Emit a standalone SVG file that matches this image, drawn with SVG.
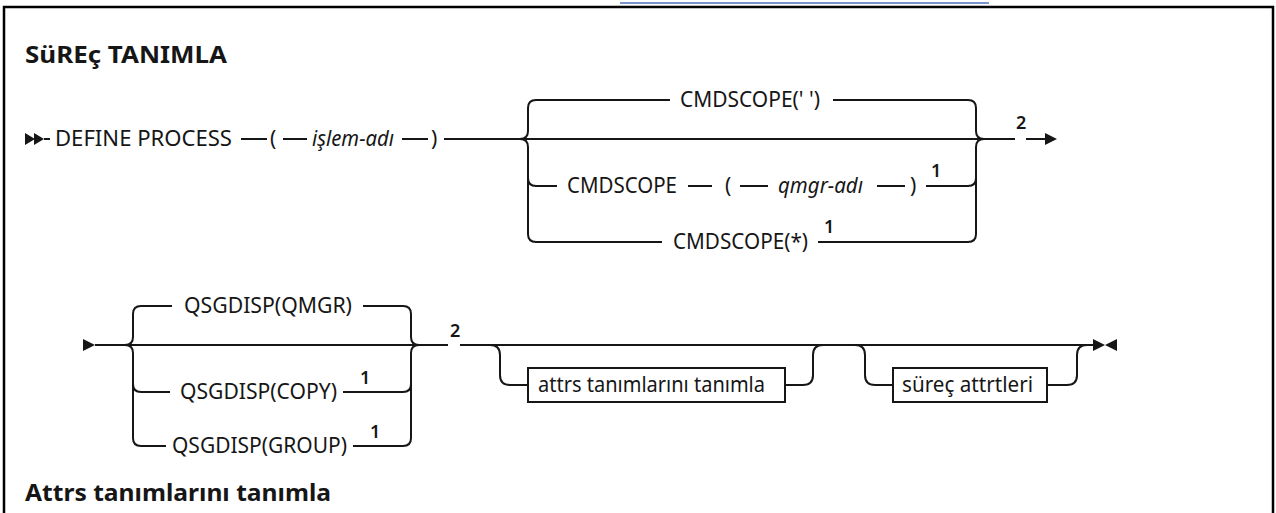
<svg xmlns="http://www.w3.org/2000/svg" width="1276" height="513" viewBox="0 0 1276 513">
<style>
.t{font-family:"Noto Sans","Liberation Sans",sans-serif;font-size:21px;fill:#161616}
.i{font-style:italic}
.h{font-family:"Noto Sans","Liberation Sans",sans-serif;font-size:24px;font-weight:bold;fill:#161616}
.s{font-family:"Noto Sans","Liberation Sans",sans-serif;font-size:18px;font-weight:600;fill:#161616}
.c{fill:none;stroke:#161616;stroke-width:2}
.b{fill:#fff;stroke:#161616;stroke-width:2}
.a{fill:#161616}
</style>
<rect width="1276" height="513" fill="#fff"/>
<line x1="620" y1="3" x2="989" y2="3" stroke="#7a93cc" stroke-width="2"/>
<path d="M4,513 V7 H1273 V513" fill="none" stroke="#000" stroke-width="2.5"/>
<text class="h" x="25" y="63" textLength="202" lengthAdjust="spacingAndGlyphs">SüREç TANIMLA</text>
<text class="h" x="25" y="501" textLength="306" lengthAdjust="spacingAndGlyphs">Attrs tanımlarını tanımla</text>

<g id="connectors">
<path class="c" d="M44,139 H50 M241,139 H267 M283,139 H307 M402,139 H428 M444,139 H1015 M1026,139 H1046"/>
<path class="c" d="M520,139 Q528,139 528,131 V108 Q528,100 536,100 H670 M833,100 H968 Q976,100 976,108 V131 Q976,139 984,139"/>
<path class="c" d="M520,139 Q528,139 528,147 V234 Q528,242 536,242 H662 M818,242 H968 Q976,242 976,234 V147 Q976,139 984,139"/>
<path class="c" d="M528,178 Q528,186 536,186 H557 M688,186 H712 M740,186 H768 M877,186 H905 M926,186 H968 Q976,186 976,178"/>
<path class="c" d="M95,345 H448 M460,345 H1093"/>
<path class="c" d="M125,345 Q133,345 133,337 V314 Q133,306 141,306 H172 M363,306 H403 Q411,306 411,314 V337 Q411,345 419,345"/>
<path class="c" d="M125,345 Q133,345 133,353 V438 Q133,446 141,446 H166 M353,446 H403 Q411,446 411,438 V353 Q411,345 419,345"/>
<path class="c" d="M133,384 Q133,392 141,392 H170 M343,392 H403 Q411,392 411,384"/>
<path class="c" d="M490,345 Q500,345 500,355 V375 Q500,385 510,385 H528 M785,385 H803 Q813,385 813,375 V355 Q813,345 823,345"/>
<path class="c" d="M855,345 Q865,345 865,355 V375 Q865,385 875,385 H893 M1047,385 H1067 Q1077,385 1077,375 V355 Q1077,345 1087,345"/>
<path class="a" d="M25,133 L35,139 L25,145 Z M34,133 L44,139 L34,145 Z"/>
<path class="a" d="M1045,133 L1057,139 L1045,145 Z"/>
<path class="a" d="M83,339 L95,345 L83,351 Z"/>
<path class="a" d="M1093,339 L1105,345 L1093,351 Z M1117,339 L1105,345 L1117,351 Z"/>
<text class="s" x="1016" y="129">2</text>
<text class="s" x="450" y="337">2</text>
</g>

<g id="n-define">
<text class="t" x="55" y="146" textLength="177" lengthAdjust="spacingAndGlyphs">DEFINE PROCESS</text>
<text class="t" x="270" y="146">(</text>
<text class="t i" x="312" y="146" textLength="82" lengthAdjust="spacingAndGlyphs">işlem-adı</text>
<text class="t" x="431" y="146">)</text>
</g>
<g id="n-cmdscope-blank">
<text class="t" x="680" y="107" textLength="140" lengthAdjust="spacingAndGlyphs">CMDSCOPE(' ')</text>
</g>
<g id="n-cmdscope-qmgr">
<text class="t" x="567" y="193" textLength="110" lengthAdjust="spacingAndGlyphs">CMDSCOPE</text>
<text class="t" x="725" y="193">(</text>
<text class="t i" x="778" y="193" textLength="85" lengthAdjust="spacingAndGlyphs">qmgr-adı</text>
<text class="t" x="910" y="193">)</text>
<text class="s" x="931" y="177">1</text>
</g>
<g id="n-cmdscope-star">
<text class="t" x="673" y="249" textLength="135" lengthAdjust="spacingAndGlyphs">CMDSCOPE(*)</text>
<text class="s" x="824" y="233">1</text>
</g>
<g id="n-qsg-qmgr">
<text class="t" x="184" y="313" textLength="168" lengthAdjust="spacingAndGlyphs">QSGDISP(QMGR)</text>
</g>
<g id="n-qsg-copy">
<text class="t" x="180" y="399" textLength="157" lengthAdjust="spacingAndGlyphs">QSGDISP(COPY)</text>
<text class="s" x="360" y="384">1</text>
</g>
<g id="n-qsg-group">
<text class="t" x="172" y="453" textLength="175" lengthAdjust="spacingAndGlyphs">QSGDISP(GROUP)</text>
<text class="s" x="370" y="438">1</text>
</g>
<g id="n-attrs">
<rect class="b" x="528" y="368" width="257" height="34"/>
<text class="t" x="538" y="392" textLength="227" lengthAdjust="spacingAndGlyphs">attrs tanımlarını tanımla</text>
</g>
<g id="n-surec">
<rect class="b" x="893" y="368" width="154" height="34"/>
<text class="t" x="902" y="392" textLength="131" lengthAdjust="spacingAndGlyphs">süreç attrtleri</text>
</g>
</svg>
